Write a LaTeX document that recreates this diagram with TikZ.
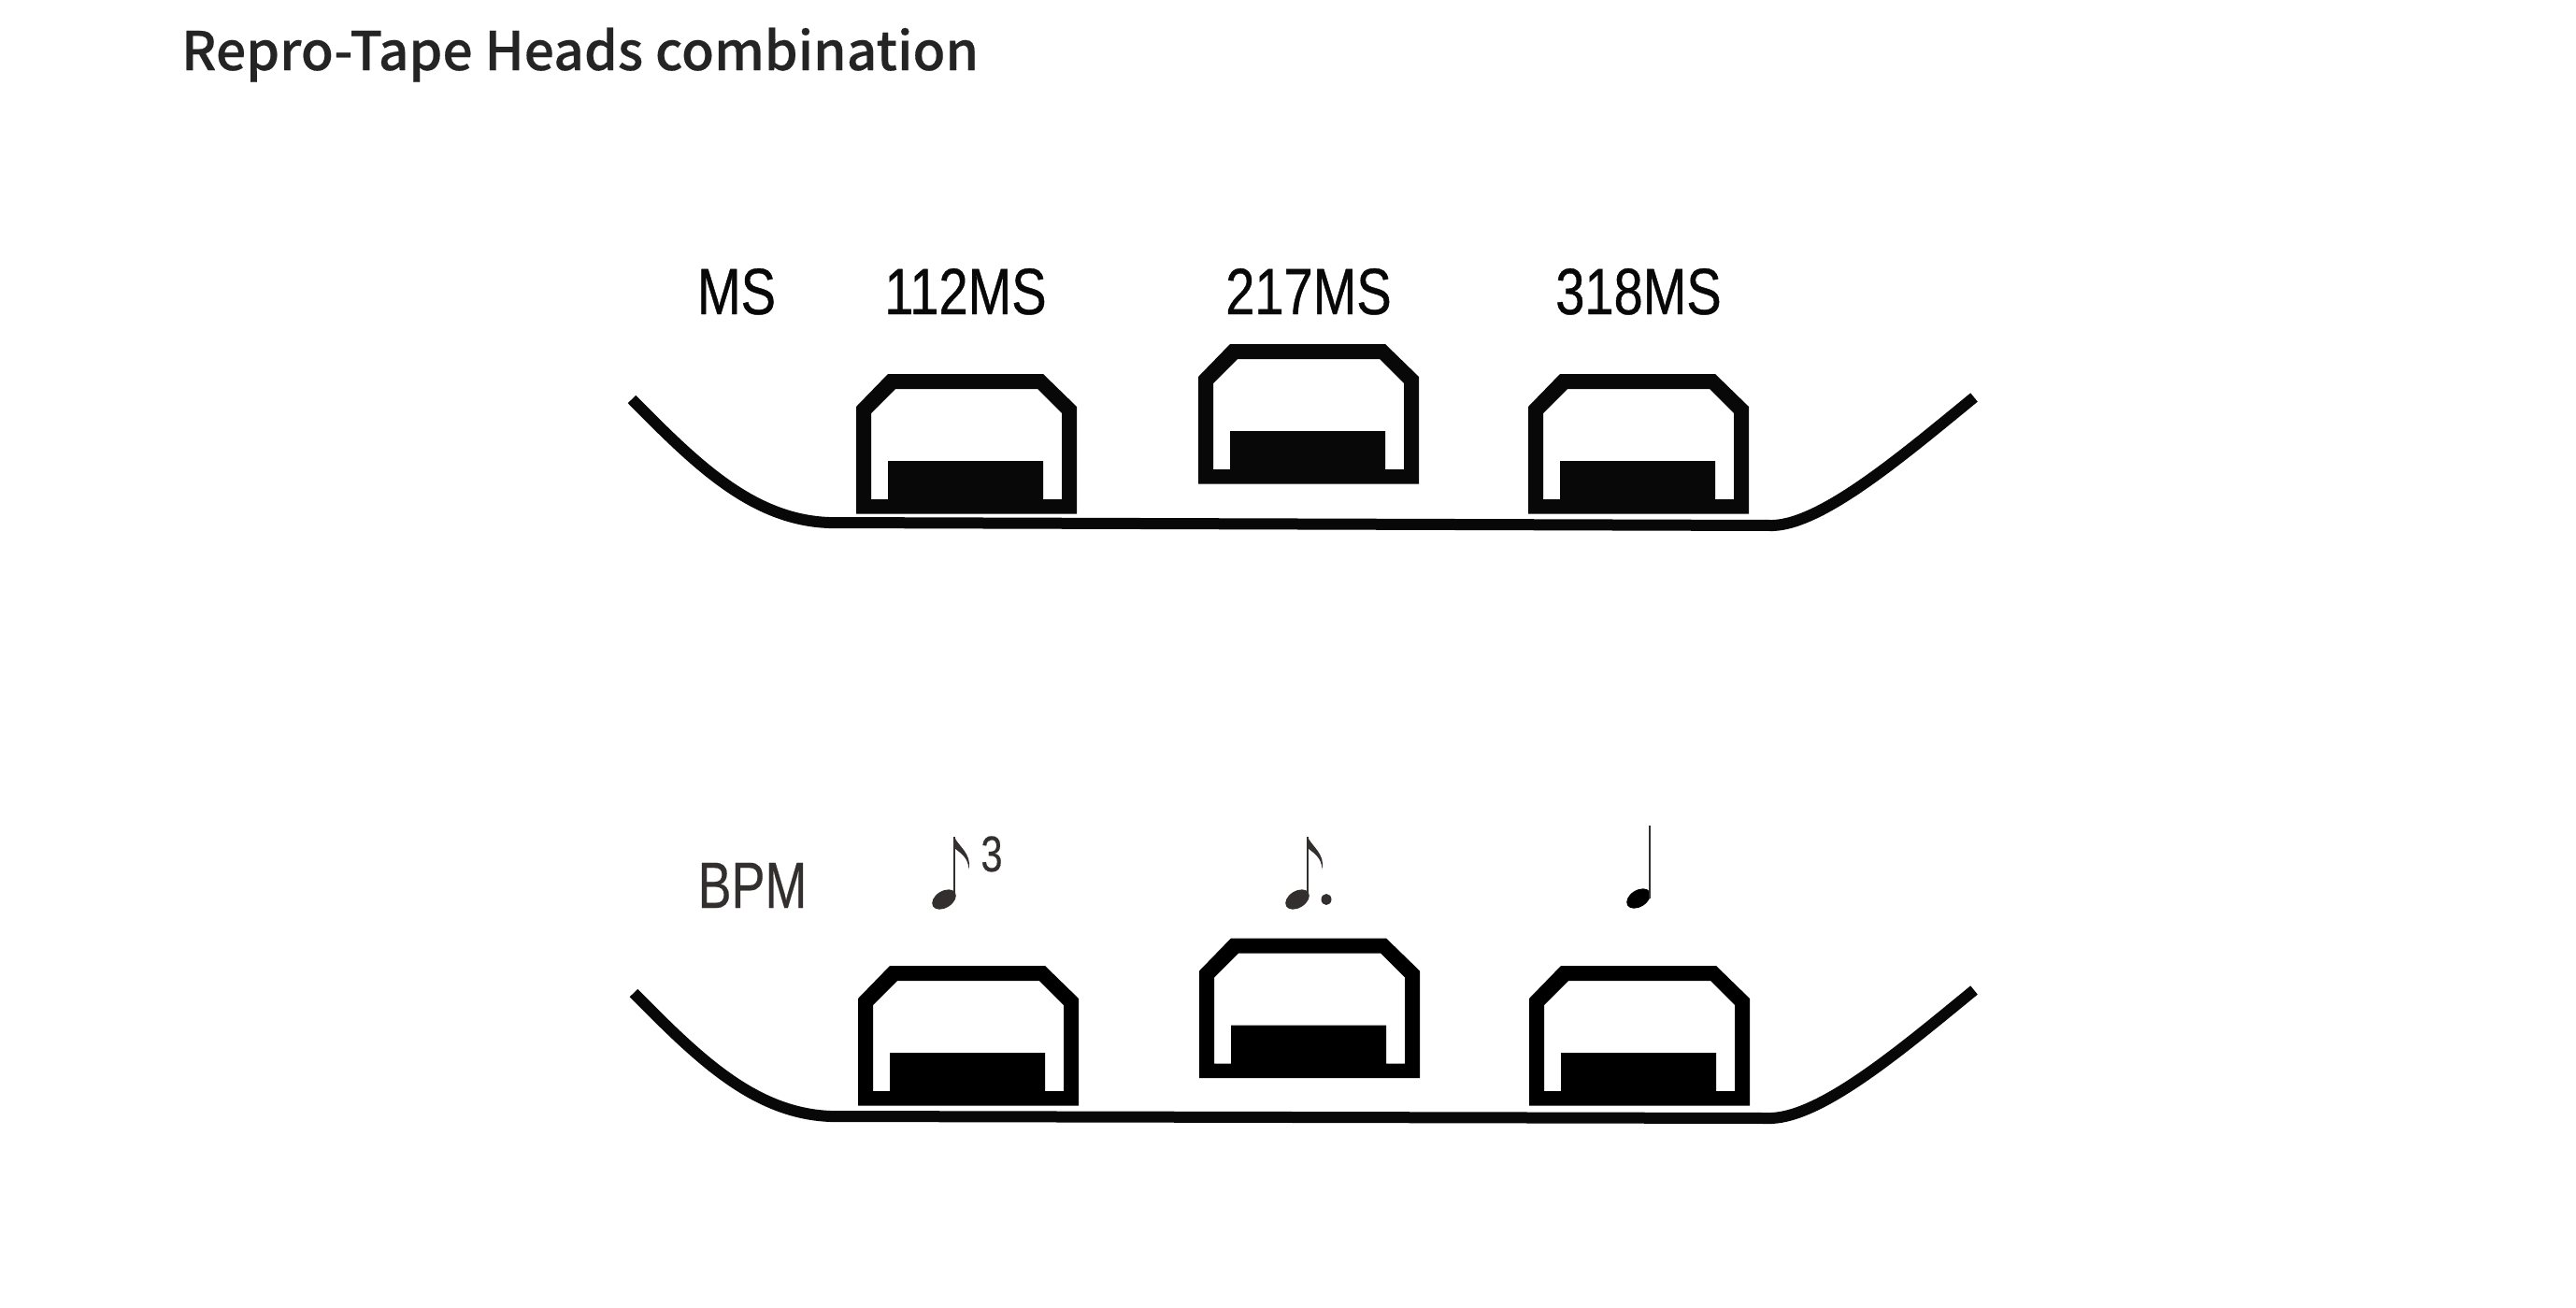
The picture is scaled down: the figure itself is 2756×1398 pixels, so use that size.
\documentclass[tikz,border=0pt]{standalone}
\usepackage{fontspec}
\newfontfamily\titlefont[FakeBold=0.3]{Noto Sans CJK KR Medium}
\newfontfamily\labelfont[FakeStretch=0.8,FakeBold=0.6]{Liberation Sans}
\newfontfamily\bpmfont[FakeStretch=0.77,FakeBold=0.3]{Liberation Sans}
\definecolor{inkdark}{HTML}{080808}
\definecolor{inknote}{HTML}{332F2E}
\definecolor{inktitle}{HTML}{242424}
\tikzset{headlabel/.style = {anchor = base, inner sep = 0pt, text = inkdark,
                             font = \labelfont\fontsize{70}{70}\selectfont},
         bpmlabel/.style = {anchor = base, inner sep = 0pt, text = inknote,
                            font = \bpmfont\fontsize{70}{70}\selectfont},
         tapeline/.style = {draw = inkdark, line width = 12pt},
         tapehead/.pic = {\path[pic actions, even odd rule]
                            (0,0) -- (0,-114.5) -- (34,-149.5) -- (200,-149.5)
                            -- (236,-114.5) -- (236,0) -- cycle
                            (16,-15.5) -- (16,-107.5) -- (42,-133.5) -- (194,-133.5)
                            -- (220,-107.5) -- (220,-15.5) -- (200,-15.5) -- (200,-56.5)
                            -- (34,-56.5) -- (34,-15.5) -- cycle;},
         notehead/.pic = {\fill[rotate = 32] (0,0) ellipse [x radius = 14pt, y radius = 9pt];},
         noteflag/.pic = {\fill (0,0) .. controls (4,10) and (19,18) .. (15.5,34.5)
                            .. controls (15,22) and (6,17) .. (0,12) -- cycle;},
         eighthnote/.pic = {\pic {notehead};
                            \draw[line width = 2pt] (11,0) -- (11,-67);
                            \pic at (11,-67) {noteflag};}
        }

\begin{document}
\begin{tikzpicture}[x = 1pt, y = -1pt]
  \useasboundingbox (0,0) rectangle (2756,1398);
  \node[anchor = base west, inner sep = 0pt, text = inktitle,
        font = \titlefont\fontsize{57}{57}\selectfont] (title) at (194,75) {Repro-Tape Heads combination};

  \node[headlabel] (msname) at (788,336) {MS};
  \node[headlabel] (ms112) at (1033,336) {112MS};
  \node[headlabel] (ms217) at (1400,336) {217MS};
  \node[headlabel] (ms318) at (1753,336) {318MS};

  \draw[tapeline] (676,427) .. controls (745,497) and (805,556) .. (887,559)
                  -- (1897,562) .. controls (1950,560) and (2035,488) .. (2112,425);
  \pic[fill = inkdark] at (916,549.5) {tapehead};
  \pic[fill = inkdark] at (1282,517.5) {tapehead};
  \pic[fill = inkdark] at (1635,549.5) {tapehead};

  \node[bpmlabel] (bpmname) at (805,971) {BPM};
  \node[bpmlabel, font = \bpmfont\fontsize{54}{54}\selectfont] (triplet) at (1061,932) {3};

  \begin{scope}[color = inknote, fill = inknote]
    \pic at (1010,962) {eighthnote};
    \pic at (1388,962) {eighthnote};
    \fill (1419,962) ellipse [x radius = 5.5pt, y radius = 6pt];
    \pic[fill = black] at (1753,961) {notehead};
    \draw[line width = 2pt] (1765,961) -- (1765,883);
  \end{scope}

  \draw[tapeline] (678,1062) .. controls (747,1132) and (807,1191) .. (889,1194)
                  -- (1895,1196) .. controls (1950,1194) and (2035,1122) .. (2112,1059);
  \pic[fill = black] at (918,1182.5) {tapehead};
  \pic[fill = black] at (1283,1153) {tapehead};
  \pic[fill = black] at (1636,1182.5) {tapehead};
\end{tikzpicture}
\end{document}
